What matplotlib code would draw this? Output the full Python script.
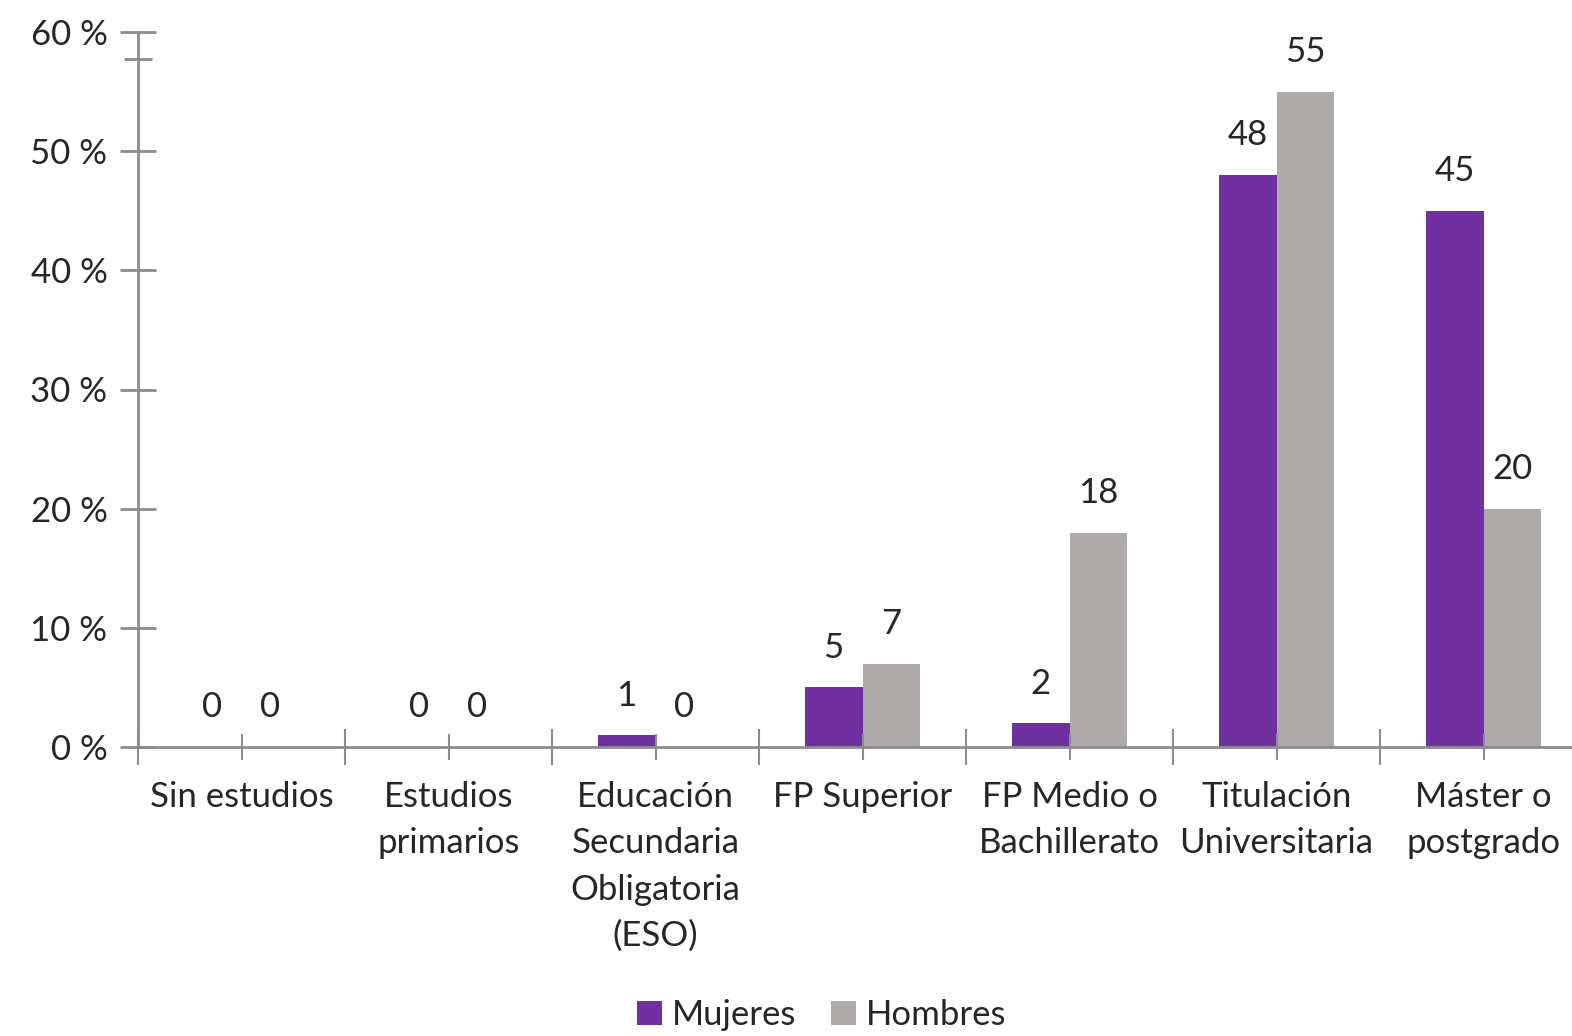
import matplotlib
matplotlib.use("Agg")
import matplotlib.pyplot as plt
import numpy as np

categories = ["Sin estudios", "Estudios\nprimarios", "Educación\nSecundaria\nObligatoria\n(ESO)",
              "FP Superior", "FP Medio o\nBachillerato", "Titulación\nUniversitaria", "Máster o\npostgrado"]
mujeres = [0, 0, 1, 5, 2, 48, 45]
hombres = [0, 0, 0, 7, 18, 55, 20]
yticks = [0, 10, 20, 30, 40, 50, 60]

PURPLE = "#7030A0"
GREY = "#AEAAAA"
AXIS = "#8C8C8C"
TEXT = "#262626"

plt.rcParams["font.family"] = ["Lato", "DejaVu Sans"]

W, H = 1572, 1036
fig = plt.figure(figsize=(W / 100, H / 100), dpi=100)
left, y0, y60 = 138, 747, 32
ax = fig.add_axes([left / W, 1 - y0 / H, 1 - left / W, (y0 - y60) / H])

x = np.arange(len(categories))
bw = 0.28
cat_px = 207.0
ax.bar(x - bw / 2, mujeres, bw, color=PURPLE, label="Mujeres")
ax.bar(x + bw / 2, hombres, bw, color=GREY, label="Hombres")

for xi, m, h in zip(x, mujeres, hombres):
    ax.annotate(str(m), (xi - bw / 2, m), xytext=(0, 28.5), textcoords="offset points",
                ha="center", va="center", fontsize=25, color=TEXT)
    ax.annotate(str(h), (xi + bw / 2, h), xytext=(0, 28.5), textcoords="offset points",
                ha="center", va="center", fontsize=25, color=TEXT)

for s in ["top", "right"]:
    ax.spines[s].set_visible(False)
for s in ["left", "bottom"]:
    ax.spines[s].set_color(AXIS)
    ax.spines[s].set_linewidth(2)

ax.set_yticks(yticks)
ax.set_yticklabels([f"{v} %" for v in yticks])
ax.set_yticks([57.7], minor=True)
ax.tick_params(axis="y", which="major", direction="inout", length=26, width=2, color=AXIS,
               labelsize=25, labelcolor=TEXT, pad=9)
ax.tick_params(axis="y", which="minor", direction="inout", length=20, width=2, color=AXIS)

ax.set_xticks(x)
ax.set_xticklabels(categories, linespacing=1.55)
ax.set_xticks(np.arange(-0.5, len(categories), 1.0), minor=True)
ax.tick_params(axis="x", which="major", direction="inout", length=19, width=1.5, color=AXIS,
               labelsize=25, labelcolor=TEXT, pad=15)
ax.tick_params(axis="x", which="minor", direction="inout", length=26, width=1.5, color=AXIS)

# limits last, set_xticks would widen them
ax.set_xlim(-0.5, -0.5 + (W - left) / cat_px)
ax.set_ylim(0, 60)

leg = fig.legend(loc="center", bbox_to_anchor=(822 / W, 1 - 1015 / H), ncol=2, frameon=False,
                 fontsize=25, handlelength=0.7, handleheight=0.7, handletextpad=0.3,
                 columnspacing=1.0, labelcolor=TEXT)

fig.savefig("out.png", dpi=100)
